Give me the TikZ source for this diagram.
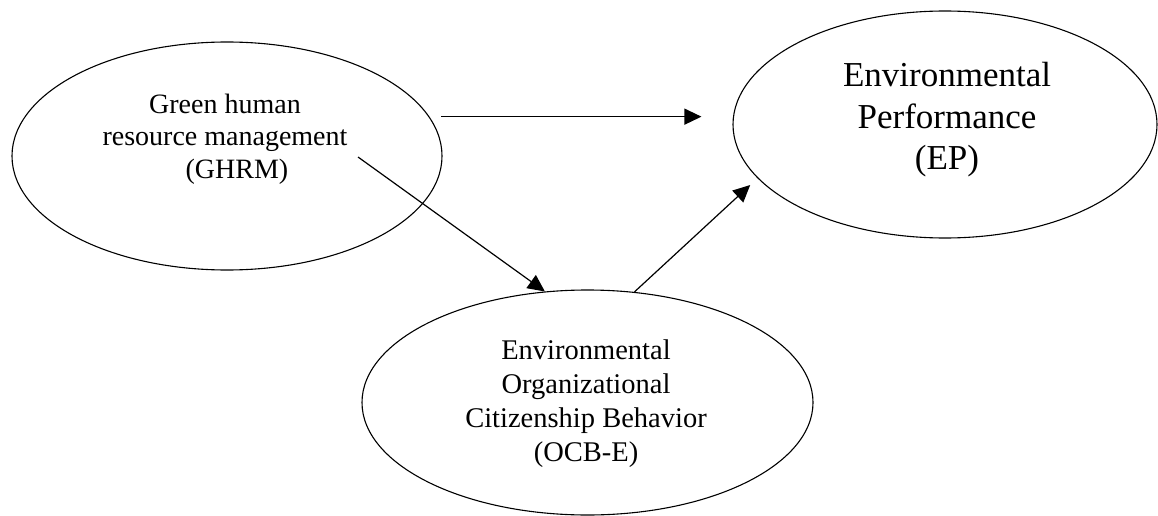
\documentclass[tikz,border=0pt]{standalone}
\usepackage{fontspec}
\setmainfont{Liberation Serif}
\usetikzlibrary{shapes.geometric, arrows.meta}

\begin{document}
\begin{tikzpicture}[
        x=1pt, y=-1pt,
        construct/.style={ellipse, draw, line width=1.1pt, inner sep=0pt},
        ctext/.style={align=center, inner sep=0pt},
        arrow/.style={-{Triangle[length=17pt, width=16pt]}, line width=1.2pt}
    ]
        \useasboundingbox (0,0) rectangle (1158,516);
        \node[construct, minimum width=430pt, minimum height=228pt] (ghrm) at (227,156) {};
        \node[construct, minimum width=424pt, minimum height=227pt] (ep) at (945,124.5) {};
        \node[construct, minimum width=451pt, minimum height=225pt] (ocb) at (587.5,402.5) {};

        \node[ctext, font={\fontsize{28}{32.5}\selectfont}] (ghrmtext) at (225,139) {Green human\\resource management\\\hspace*{24pt}(GHRM)};
        \node[ctext, font={\fontsize{35}{41.5}\selectfont}] (eptext) at (947,120) {Environmental\\Performance\\(EP)};
        \node[ctext, font={\fontsize{28.5}{34}\selectfont}] (ocbtext) at (586,404) {Environmental\\Organizational\\Citizenship Behavior\\(OCB-E)};

        \coordinate (ghrmout) at (358,157);
        \draw[arrow, shorten <=12pt, shorten >=31pt] (ghrm.11) -- (ghrm.11 -| ep.west);
        \draw[arrow] (ghrmout) -- (ocb.111);
        \draw[arrow, shorten >=10pt] (ocb.67) -- (ep.196);
    \end{tikzpicture}
\end{document}
